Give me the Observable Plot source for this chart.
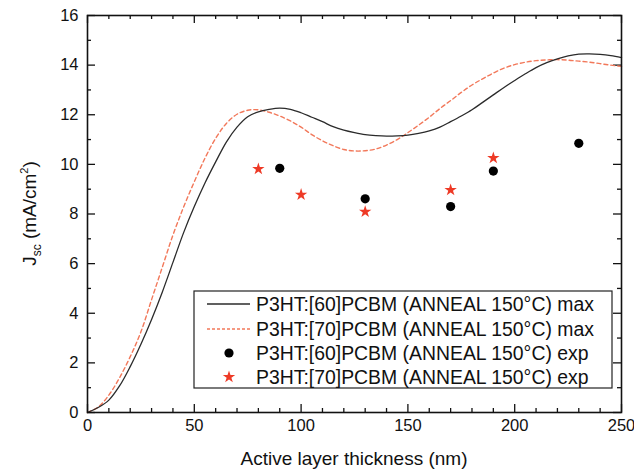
<!DOCTYPE html>
<html>
<head>
<meta charset="utf-8">
<script src="https://cdn.jsdelivr.net/npm/d3@7"></script>
<script src="https://cdn.jsdelivr.net/npm/@observablehq/plot@0.6"></script>
<style>
  html, body { margin: 0; padding: 0; background: #fff; }
  #chart { width: 634px; height: 472px; }
</style>
</head>
<body>
<div id="chart"></div>
<script>
// ---- data ----
const thickness = [0,5,10,15,20,25,30,35,40,45,50,55,60,65,70,75,80,85,90,95,100,105,110,115,120,125,130,135,140,145,150,155,160,165,170,175,180,185,190,195,200,205,210,215,220,225,230,235,240,245,250];
const jsc60max = [0,0.2,0.5,1.07,1.85,2.75,3.75,4.85,6.05,7.25,8.3,9.25,10.1,10.9,11.5,11.92,12.12,12.22,12.27,12.22,12.08,11.9,11.72,11.52,11.38,11.28,11.2,11.16,11.14,11.15,11.18,11.25,11.35,11.5,11.72,11.95,12.2,12.5,12.8,13.1,13.38,13.65,13.9,14.1,14.25,14.37,14.44,14.45,14.43,14.38,14.3];
const jsc70max = [0,0.22,0.7,1.4,2.25,3.25,4.55,5.85,7.15,8.28,9.3,10.25,11.05,11.65,12.02,12.18,12.2,12.1,11.95,11.75,11.5,11.2,10.95,10.75,10.6,10.54,10.55,10.62,10.78,11.0,11.28,11.58,11.9,12.25,12.57,12.9,13.2,13.45,13.68,13.88,14.02,14.12,14.18,14.21,14.22,14.2,14.16,14.12,14.06,14.0,13.95];
const expThick60 = [90,130,170,190,230];
const jsc60exp = [9.84,8.61,8.30,9.73,10.85];
const expThick70 = [80,100,130,170,190];
const jsc70exp = [9.81,8.78,8.09,8.97,10.26];
const xMajor = [0,50,100,150,200,250];
const xMinor = [10,20,30,40,60,70,80,90,110,120,130,140,160,170,180,190,210,220,230,240];
const yMajor = [0,2,4,6,8,10,12,14,16];
const yMinor = [1,3,5,7,9,11,13,15];
const legendLabels = [
  "P3HT:[60]PCBM (ANNEAL 150°C) max",
  "P3HT:[70]PCBM (ANNEAL 150°C) max",
  "P3HT:[60]PCBM (ANNEAL 150°C) exp",
  "P3HT:[70]PCBM (ANNEAL 150°C) exp"
];
const xTitle = "Active layer thickness (nm)";

// ---- build tables ----
const curve60 = thickness.map((t, i) => ({t, j: jsc60max[i]}));
const curve70 = thickness.map((t, i) => ({t, j: jsc70max[i]}));
const exp60 = expThick60.map((t, i) => ({t, j: jsc60exp[i]}));
const exp70 = expThick70.map((t, i) => ({t, j: jsc70exp[i]}));

const W = 634, H = 472, mL = 87, mR = 13, mT = 15, mB = 60;
const pw = W - mL - mR, ph = H - mT - mB;
const axisColor = "#111";
const c60 = "#2b2b2b", c70 = "#f2785a", cStar = "#ee3a26";
const starR = 3.9;

const chart = Plot.plot({
  width: W, height: H,
  marginLeft: mL, marginRight: mR, marginTop: mT, marginBottom: mB,
  style: {fontFamily: "'Liberation Sans', Arial, sans-serif", fontSize: "17px", color: "#111", background: "#fff"},
  x: {domain: [0, 250]},
  y: {domain: [0, 16]},
  marks: [
    // inward ticks
    Plot.ruleX(xMinor, {x: d => d, insetTop: ph - 4, stroke: axisColor, strokeWidth: 1.3}),
    Plot.ruleX(xMajor, {x: d => d, insetTop: ph - 8, stroke: axisColor, strokeWidth: 1.3}),
    Plot.ruleX(xMinor, {x: d => d, insetBottom: ph - 4, stroke: axisColor, strokeWidth: 1.3}),
    Plot.ruleX(xMajor, {x: d => d, insetBottom: ph - 8, stroke: axisColor, strokeWidth: 1.3}),
    Plot.ruleY(yMinor, {y: d => d, insetRight: pw - 4, stroke: axisColor, strokeWidth: 1.3}),
    Plot.ruleY(yMajor, {y: d => d, insetRight: pw - 8, stroke: axisColor, strokeWidth: 1.3}),
    Plot.ruleY(yMinor, {y: d => d, insetLeft: pw - 4, stroke: axisColor, strokeWidth: 1.3}),
    Plot.ruleY(yMajor, {y: d => d, insetLeft: pw - 8, stroke: axisColor, strokeWidth: 1.3}),
    Plot.line(curve70, {x: "t", y: "j", curve: "catmull-rom", stroke: c70, strokeWidth: 1.4, strokeDasharray: "4,3"}),
    Plot.line(curve60, {x: "t", y: "j", curve: "catmull-rom", stroke: c60, strokeWidth: 1.3}),
    Plot.dot(exp60, {x: "t", y: "j", r: 4.6, fill: "#000", stroke: "none"}),
    Plot.dot(exp70, {x: "t", y: "j", r: starR, symbol: "star", fill: cStar, stroke: "none"}),
    Plot.frame({stroke: axisColor, strokeWidth: 1.6}),
    Plot.axisX({ticks: xMajor, tickSize: 0, tickPadding: 7, label: null, fontSize: 16.5}),
    Plot.axisY({ticks: yMajor, tickSize: 0, tickPadding: 9, label: null, fontSize: 16.5})
  ]
});
document.getElementById("chart").appendChild(chart);

// ---- titles and legend (text) ----
const svg = d3.select(chart);
const font = "'Liberation Sans', Arial, sans-serif";
svg.append("text")
  .attr("x", mL + pw / 2).attr("y", 465)
  .attr("text-anchor", "middle")
  .attr("font-family", font).attr("font-size", 19).attr("fill", "#111")
  .text(xTitle);

const yl = svg.append("text")
  .attr("transform", `translate(36, ${mT + ph / 2}) rotate(-90)`)
  .attr("text-anchor", "middle")
  .attr("font-family", font).attr("font-size", 19).attr("fill", "#111");
yl.append("tspan").text("J");
yl.append("tspan").attr("font-size", 12).attr("dy", 5).text("sc");
yl.append("tspan").attr("dy", -5).text(" (mA/cm");
yl.append("tspan").attr("font-size", 11).attr("dy", -8).text("2");
yl.append("tspan").attr("dy", 8).text(")");

const lg = svg.append("g");
const lx = 194, ly = 291, lw = 418, lh = 97;
lg.append("rect").attr("x", lx).attr("y", ly).attr("width", lw).attr("height", lh)
  .attr("fill", "#fff").attr("stroke", "#222").attr("stroke-width", 1.2);
const rows = [304, 329, 353, 377];
rows.forEach((ry, i) => {
  if (i === 0) lg.append("line").attr("x1", 207).attr("x2", 250).attr("y1", ry).attr("y2", ry).attr("stroke", c60).attr("stroke-width", 1.3);
  if (i === 1) lg.append("line").attr("x1", 207).attr("x2", 250).attr("y1", ry).attr("y2", ry).attr("stroke", c70).attr("stroke-width", 1.3).attr("stroke-dasharray", "3,2");
  if (i === 2) lg.append("circle").attr("cx", 229).attr("cy", ry).attr("r", 4.6).attr("fill", "#000");
  if (i === 3) lg.append("path").attr("d", d3.symbol(d3.symbolStar, Math.PI * starR * starR)()).attr("transform", `translate(229,${ry})`).attr("fill", cStar);
  lg.append("text").attr("x", 256).attr("y", ry).attr("dy", "0.36em")
    .attr("text-anchor", "start")
    .attr("font-family", font).attr("font-size", 19.4).attr("fill", "#111")
    .text(legendLabels[i]);
});
</script>
</body>
</html>
